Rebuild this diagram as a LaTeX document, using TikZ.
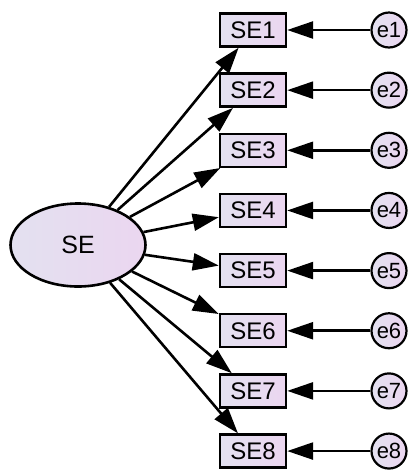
\documentclass[tikz,border=0pt]{standalone}
\usepackage{fontspec}
\setmainfont{Liberation Sans}
\usetikzlibrary{arrows.meta,shapes.geometric}
\begin{document}
\begin{tikzpicture}[x=1pt,y=-1pt,
  obs/.style={draw=black,line width=2.4pt,left color=boxL,right color=boxR,minimum width=66pt,minimum height=33pt,inner sep=0pt,font=\fontsize{24}{24}\selectfont},
  err/.style={draw=black,line width=2.2pt,circle,left color=boxL,right color=boxR,minimum size=35pt,inner sep=0pt,font=\fontsize{22}{22}\selectfont},
  lat/.style={draw=black,line width=2.6pt,ellipse,left color=boxL,right color=boxR,minimum width=135pt,minimum height=83pt,inner sep=0pt,font=\fontsize{25}{25}\selectfont},
  path/.style={line width=2.6pt,-{Triangle[length=26pt,width=17pt]}}]
\definecolor{boxL}{HTML}{E3E1F0}
\definecolor{boxR}{HTML}{EBD6F0}
\useasboundingbox (0,0) rectangle (411,475);
\node[lat] (se) at (78,245) {SE};
\foreach \i in {1,...,8}{
  \node[obs] (b\i) at (253,{30+60.15*(\i-1)}) {SE\i};
  \node[err] (e\i) at (389,{30+60.15*(\i-1)}) {e\i};
  \draw[path] (se) -- (b\i);
  \draw[path] (e\i) -- (b\i);
}
\end{tikzpicture}
\end{document}
